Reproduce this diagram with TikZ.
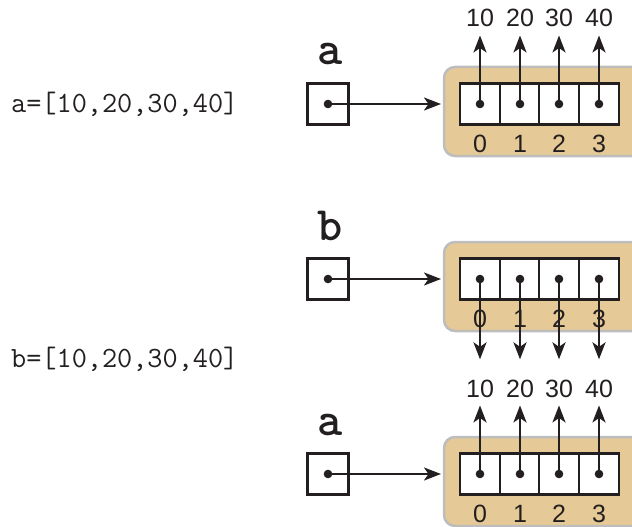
\documentclass[tikz,border=0pt]{standalone}
\usepackage{fontspec}
\setmainfont{Liberation Sans}
\usetikzlibrary{arrows.meta}
\definecolor{tanfill}{HTML}{E5C996}
\definecolor{rim}{HTML}{BDBDBD}
\definecolor{ink}{HTML}{231F20}
\begin{document}
\begin{tikzpicture}[x=1pt,y=-1pt,
  cell/.style={draw=ink,line width=2.4pt,fill=white,minimum width=39.5pt,minimum height=41pt,inner sep=0pt,outer sep=0pt},
  ptrbox/.style={draw=ink,line width=2.4pt,fill=white,minimum width=41pt,minimum height=41pt,inner sep=0pt,outer sep=0pt},
  refarrow/.style={draw=ink,line width=2.5pt,-{Stealth[length=17pt,width=13pt,inset=4.5pt]}},
  num/.style={text=ink,font=\fontsize{25}{25}\selectfont,inner sep=0pt},
  code/.style={text=ink,font=\ttfamily\fontsize{29.4}{29.4}\selectfont,inner sep=0pt},
  var/.style={text=ink,font=\ttfamily\bfseries\fontsize{48}{48}\selectfont,inner sep=0pt},
  holder/.style={draw=rim,line width=2.5pt,fill=tanfill,rounded corners=11pt},
  dotmark/.style={fill=ink}
]
\useasboundingbox (0,0) rectangle (632,527);
\clip (0,0) rectangle (632,527);

\node[code,anchor=base west] (codea) at (11,112) {a=[10,20,30,40]};
\node[code,anchor=base west] (codeb) at (11,367) {b=[10,20,30,40]};

\foreach \p/\off/\nm in {A/0/a,B/175/b,C/370/a}{
  \begin{scope}[shift={(0,\off)}]
    \node[var,anchor=base] (var\p) at (330,65) {\nm};
    \node[ptrbox] (ptr\p) at (328,104) {};
    \draw[holder] (444,67) rectangle (670,156);
    \foreach \i/\x in {0/480,1/520,2/559,3/599}{
      \node[cell] (cell\p\i) at (\x,104) {};
      \node[num,anchor=base] (idx\p\i) at (\x,152.5) {\i};
    }
    \coordinate (hold\p) at (444,104);
    \draw[refarrow,shorten >=3pt] (ptr\p.center) -- (hold\p);
    \fill[dotmark] (ptr\p.center) circle (4.3pt);
  \end{scope}
}

% value labels
\foreach \i/\x/\v in {0/480/10,1/520/20,2/559/30,3/599/40}{
  \node[num,anchor=base] (topv\i) at (\x,27) {\v};
  \node[num,anchor=base] (botv\i) at (\x,397) {\v};
}

\foreach \i in {0,1,2,3}{
  \draw[refarrow,shorten >=8pt] (cellA\i.center) -- (topv\i.south);
  \draw[refarrow,shorten >=8pt] (cellC\i.center) -- (botv\i.south);
  \draw[refarrow,shorten >=20pt] (cellB\i.center) -- (botv\i.north);
  \fill[dotmark] (cellA\i.center) circle (4.3pt);
  \fill[dotmark] (cellB\i.center) circle (4.3pt);
  \fill[dotmark] (cellC\i.center) circle (4.3pt);
}
\end{tikzpicture}
\end{document}
